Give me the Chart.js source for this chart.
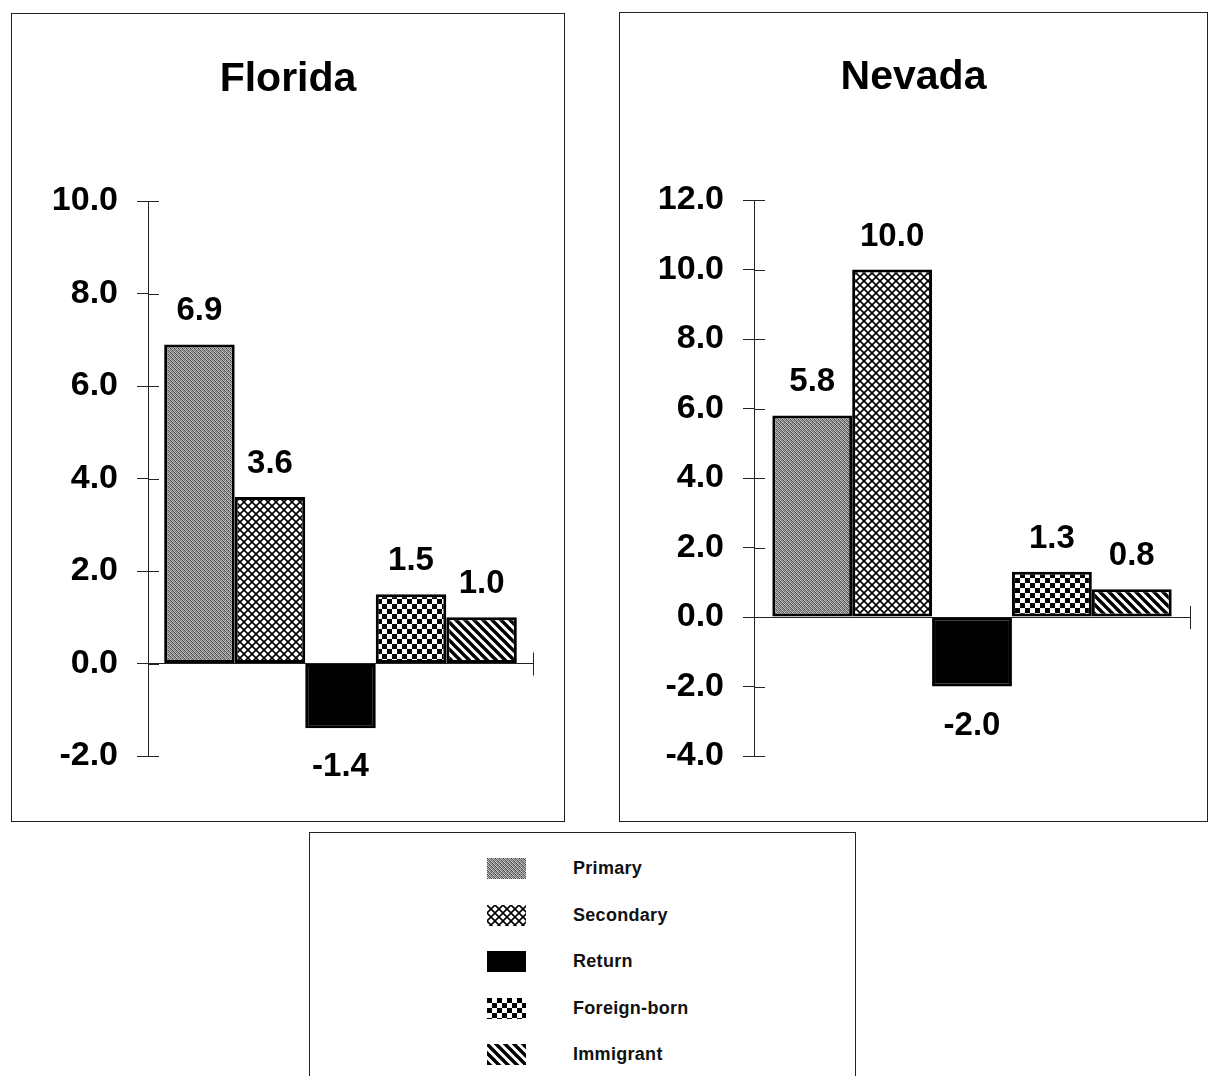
<!DOCTYPE html>
<html>
<head>
<meta charset="utf-8">
<script src="https://cdn.jsdelivr.net/npm/chart.js@4.4.1/dist/chart.umd.min.js"></script>
<style>
  body { margin: 0; background: #fff; width: 1209px; height: 1076px; overflow: hidden; position: relative;
         font-family: "Liberation Sans", Arial, sans-serif; }
  .panel { position: absolute; border: 1px solid #222; box-sizing: border-box; background: #fff; }
  #flPanel { left: 11px; top: 13px; width: 554px; height: 809px; }
  #nvPanel { left: 619px; top: 12px; width: 589px; height: 810px; }
  #legendBox { left: 309px; top: 832px; width: 547px; height: 260px; }
  .chartWrap { position: absolute; left: 0; top: 0; width: 100%; height: 100%; }
  .row { position: absolute; left: 177px; height: 21px; display: flex; align-items: center; }
  .row canvas { width: 39px; height: 21px; display: block; }
  .row span { position: absolute; left: 86px; white-space: nowrap; font-weight: bold; font-size: 18px; color: #111; letter-spacing: 0.3px; }
</style>
</head>
<body>
<div class="panel" id="flPanel"><div class="chartWrap"><canvas id="floridaChart"></canvas></div></div>
<div class="panel" id="nvPanel"><div class="chartWrap"><canvas id="nevadaChart"></canvas></div></div>
<div class="panel" id="legendBox"></div>

<script>
// series (one bar per migrant type) and values
const seriesNames = ['Primary', 'Secondary', 'Return', 'Foreign-born', 'Immigrant'];
const floridaValues = [6.9, 3.6, -1.4, 1.5, 1.0];
const nevadaValues = [5.8, 10.0, -2.0, 1.3, 0.8];
const floridaRange = [-2, 10];   // y axis min / max
const nevadaRange = [-4, 12];
const tickStep = 2;

const FONT = '"Liberation Sans", Arial, sans-serif';

// fill patterns for the bars
function makeTile(size, draw) {
    const c = document.createElement('canvas');
    c.width = size; c.height = size;
    const g = c.getContext('2d');
    g.fillStyle = '#fff';
    g.fillRect(0, 0, size, size);
    draw(g, size);
    return c;
}

const tiles = {
    stipple: makeTile(4, (g) => {
        const m = [[0x48, 0xc0, 0x70, 0xa8], [0x98, 0x5c, 0xcc, 0x78],
                   [0x74, 0xb0, 0x4c, 0xbc], [0xc8, 0x80, 0x9c, 0x58]];
        for (let y = 0; y < 4; y++) for (let x = 0; x < 4; x++) {
            const v = m[y][x];
            g.fillStyle = 'rgb(' + v + ',' + v + ',' + v + ')';
            g.fillRect(x, y, 1, 1);
        }
    }),
    crosshatch: makeTile(8, (g, s) => {
        g.strokeStyle = '#000';
        g.lineWidth = 1.6;
        for (let k = -1; k <= 1; k++) {
            g.beginPath(); g.moveTo(0, k * s); g.lineTo(s, k * s + s); g.stroke();
            g.beginPath(); g.moveTo(0, k * s + s); g.lineTo(s, k * s); g.stroke();
        }
    }),
    solid: makeTile(4, (g, s) => { g.fillStyle = '#000'; g.fillRect(0, 0, s, s); }),
    checker: makeTile(10, (g) => {
        g.fillStyle = '#000';
        g.fillRect(0, 0, 5, 5);
        g.fillRect(5, 5, 5, 5);
    }),
    stripes: makeTile(9, (g, s) => {
        g.strokeStyle = '#000';
        g.lineWidth = 3.4;
        for (let k = -1; k <= 1; k++) {
            g.beginPath(); g.moveTo(-1, k * s - 1); g.lineTo(s + 1, k * s + s + 1); g.stroke();
        }
    })
};
const tileOrder = ['stipple', 'crosshatch', 'solid', 'checker', 'stripes'];
const patCtx = document.createElement('canvas').getContext('2d');
const patterns = tileOrder.map(t => patCtx.createPattern(tiles[t], 'repeat'));

// ticks crossing the axes + value labels above/below the bars
const marksPlugin = {
    id: 'marks',
    afterDraw(chart) {
        const ctx = chart.ctx;
        const y = chart.scales.y;
        const area = chart.chartArea;
        ctx.save();
        ctx.strokeStyle = '#222';
        ctx.lineWidth = 1;
        y.ticks.forEach(t => {
            const py = Math.round(y.getPixelForValue(t.value)) + 0.5;
            ctx.beginPath(); ctx.moveTo(area.left, py); ctx.lineTo(area.left + 11, py); ctx.stroke();
        });
        const y0 = y.getPixelForValue(0);
        const ex = Math.round(area.right) + 0.5;
        ctx.beginPath(); ctx.moveTo(ex, y0 - 11); ctx.lineTo(ex, y0 + 12); ctx.stroke();
        ctx.restore();
    },
    afterDatasetsDraw(chart) {
        const ctx = chart.ctx;
        ctx.save();
        ctx.fillStyle = '#000';
        ctx.font = 'bold 33px ' + FONT;
        ctx.textAlign = 'center';
        ctx.textBaseline = 'alphabetic';
        chart.data.datasets.forEach((ds, i) => {
            const bar = chart.getDatasetMeta(i).data[0];
            const v = ds.data[0];
            const ty = v >= 0 ? bar.y - 24 : bar.y + 48;
            ctx.fillText(v.toFixed(1), bar.x, ty);
        });
        ctx.restore();
    }
};

function buildChart(id, title, values, range, axisWidth, titleTop, padRight) {
    new Chart(document.getElementById(id), {
        type: 'bar',
        data: {
            labels: [''],
            datasets: seriesNames.map((name, i) => ({
                label: name,
                data: [values[i]],
                backgroundColor: patterns[i],
                borderColor: '#000',
                borderWidth: 3,
                borderSkipped: false,
                categoryPercentage: 0.916,
                barPercentage: 1.0
            }))
        },
        options: {
            responsive: true,
            maintainAspectRatio: false,
            animation: false,
            layout: { padding: { left: 0, right: 0, top: 0, bottom: 65 } },
            scales: {
                x: {
                    axis: 'x',
                    type: 'category',
                    position: { y: 0 },
                    offset: true,
                    grid: { display: false },
                    ticks: { display: false },
                    border: { display: true, color: '#222', width: 1 }
                },
                y: {
                    min: range[0],
                    max: range[1],
                    afterFit: (scale) => { scale.width = axisWidth; },
                    ticks: {
                        stepSize: tickStep,
                        color: '#000',
                        padding: 19,
                        font: { family: FONT, size: 34, weight: 'bold' },
                        callback: (v) => Number(v).toFixed(1)
                    },
                    grid: { drawOnChartArea: false, drawTicks: true, tickLength: 11, color: '#222', lineWidth: 1 },
                    border: { display: true, color: '#222', width: 1 }
                },
                // empty right-hand spacer so the title stays centred on the whole panel
                spacer: {
                    axis: 'y',
                    position: 'right',
                    display: true,
                    afterFit: (scale) => { scale.width = padRight; },
                    ticks: { display: false },
                    grid: { display: false },
                    border: { display: false }
                }
            },
            plugins: {
                legend: { display: false },
                tooltip: { enabled: false },
                title: {
                    display: true,
                    text: title,
                    color: '#000',
                    font: { family: FONT, size: 41, weight: 'bold', lineHeight: 1.2 },
                    padding: { top: titleTop, bottom: 187 - titleTop - 41 * 1.2 }
                }
            }
        },
        plugins: [marksPlugin]
    });
}

buildChart('floridaChart', 'Florida', floridaValues, floridaRange, 136, 41, 31);
buildChart('nevadaChart', 'Nevada', nevadaValues, nevadaRange, 134, 40, 17);

// legend box with pattern swatches
const legendBox = document.getElementById('legendBox');
seriesNames.forEach((name, i) => {
    const row = document.createElement('div');
    row.className = 'row';
    row.style.top = (25 + i * 46.5) + 'px';
    const sw = document.createElement('canvas');
    sw.width = 39; sw.height = 21;
    const g = sw.getContext('2d');
    g.fillStyle = g.createPattern(tiles[tileOrder[i]], 'repeat');
    g.fillRect(0, 0, 39, 21);
    const label = document.createElement('span');
    label.textContent = name;
    row.appendChild(sw);
    row.appendChild(label);
    legendBox.appendChild(row);
});
</script>
</body>
</html>
